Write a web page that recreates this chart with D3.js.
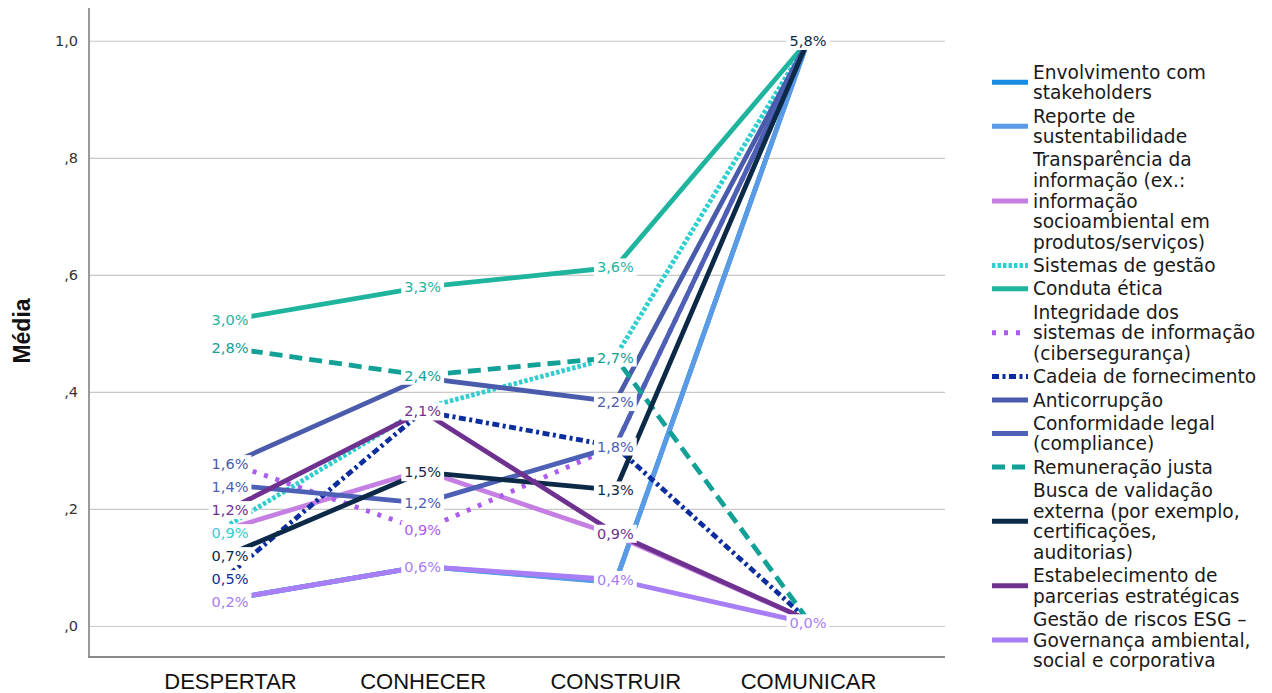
<!DOCTYPE html>
<html>
<head>
<meta charset="utf-8">
<script src="https://cdn.jsdelivr.net/npm/d3@7"></script>
<style>
  body { margin: 0; background: #fff; }
  svg { display: block; }
</style>
</head>
<body>
<svg id="chart" width="1272" height="693"></svg>
<script>
// Stages on the horizontal axis
const categories = ["DESPERTAR", "CONHECER", "CONSTRUIR", "COMUNICAR"];

// Y axis ticks
const yTicks = [0, 0.2, 0.4, 0.6, 0.8, 1.0];
const yTickLabels = [",0", ",2", ",4", ",6", ",8", "1,0"];

// Legend names (line breaks as shown in the legend)
const seriesNames = [
  "Envolvimento com\nstakeholders",
  "Reporte de\nsustentabilidade",
  "Transparência da\ninformação (ex.:\ninformação\nsocioambiental em\nprodutos/serviços)",
  "Sistemas de gestão",
  "Conduta ética",
  "Integridade dos\nsistemas de informação\n(cibersegurança)",
  "Cadeia de fornecimento",
  "Anticorrupção",
  "Conformidade legal\n(compliance)",
  "Remuneração justa",
  "Busca de validação\nexterna (por exemplo,\ncertificações,\nauditorias)",
  "Estabelecimento de\nparcerias estratégicas",
  "Gestão de riscos ESG –\nGovernança ambiental,\nsocial e corporativa"
];

// Mean per stage, one array per theme
const envolvimento    = [0.046, 0.102, 0.075, 1.0];
const reporte         = [0.046, 0.102, 0.074, 1.0];
const transparencia   = [0.167, 0.266, 0.155, 0.01];
const sistemas        = [0.174, 0.372, 0.460, 1.0];
const conduta         = [0.523, 0.579, 0.613, 1.0];
const integridade     = [0.278, 0.164, 0.307, 1.0];
const cadeia          = [0.089, 0.367, 0.307, 0.01];
const anticorrupcao   = [0.277, 0.424, 0.383, 1.0];
const conformidade    = [0.241, 0.210, 0.307, 1.0];
const remuneracao     = [0.475, 0.428, 0.459, 0.01];
const busca           = [0.123, 0.263, 0.232, 1.0];
const estabelecimento = [0.200, 0.367, 0.158, 0.01];
const gestaoRiscos    = [0.046, 0.102, 0.079, 0.005];

// Percentage labels printed next to points (null = no label)
const envolvimentoLbl    = [null, null, null, null];
const reporteLbl         = [null, null, null, null];
const transparenciaLbl   = [null, null, null, null];
const sistemasLbl        = ["0,9%", null, null, null];
const condutaLbl         = ["3,0%", "3,3%", "3,6%", null];
const integridadeLbl     = [null, "0,9%", null, null];
const cadeiaLbl          = ["0,5%", null, null, null];
const anticorrupcaoLbl   = ["1,6%", null, "2,2%", null];
const conformidadeLbl    = ["1,4%", "1,2%", "1,8%", null];
const remuneracaoLbl     = ["2,8%", "2,4%", "2,7%", null];
const buscaLbl           = ["0,7%", "1,5%", "1,3%", "5,8%"];
const estabelecimentoLbl = ["1,2%", "2,1%", "0,9%", null];
const gestaoRiscosLbl    = ["0,2%", "0,6%", "0,4%", "0,0%"];

const seriesValues = [envolvimento, reporte, transparencia, sistemas, conduta, integridade,
  cadeia, anticorrupcao, conformidade, remuneracao, busca, estabelecimento, gestaoRiscos];
const seriesLabels = [envolvimentoLbl, reporteLbl, transparenciaLbl, sistemasLbl, condutaLbl,
  integridadeLbl, cadeiaLbl, anticorrupcaoLbl, conformidadeLbl, remuneracaoLbl, buscaLbl,
  estabelecimentoLbl, gestaoRiscosLbl];

// Styling
const seriesColors = ["#1a8be2", "#5b9be6", "#c57fe3", "#2fcfd0", "#1fb49e", "#ad5cf0",
  "#0b2d9e", "#4a5bab", "#4d60b6", "#13a096", "#0c2a48", "#6f3190", "#a77ef5"];
const seriesDash = [null, null, null, "3.5,2", null, "4,8", "7,3.5,3,3.5", null, null,
  "13,7", null, null, null];

const svg = d3.select("#chart");
const plotLeft = 89, plotRight = 945, plotTop = 8, plotBottom = 657;

const x = d3.scalePoint().domain(categories).range([230, 808]);
const y = d3.scaleLinear().domain([-0.053, 1.056]).range([plotBottom, plotTop]);

// Y axis with gridlines
const yAxis = svg.append("g")
  .attr("transform", `translate(${plotLeft},0)`)
  .call(d3.axisLeft(y).tickValues(yTicks)
    .tickSize(-(plotRight - plotLeft))
    .tickPadding(11)
    .tickFormat((d, i) => yTickLabels[i]));
yAxis.select(".domain").remove();
yAxis.selectAll(".tick line").attr("stroke", "#c8c8c8").attr("stroke-width", 1.2);
yAxis.selectAll(".tick text")
  .attr("font-family", "DejaVu Sans, sans-serif")
  .attr("font-size", 14.5)
  .attr("fill", "#333");

// X axis labels
const xAxis = svg.append("g")
  .attr("transform", `translate(0,${plotBottom})`)
  .call(d3.axisBottom(x).tickSize(0).tickPadding(16));
xAxis.select(".domain").remove();
xAxis.selectAll(".tick text")
  .attr("font-family", "Liberation Sans, Arial, sans-serif")
  .attr("font-size", 22)
  .attr("fill", "#111");

// Axis frame lines
svg.append("line").attr("x1", plotLeft).attr("x2", plotLeft)
  .attr("y1", plotTop).attr("y2", plotBottom)
  .attr("stroke", "#9a9a9a").attr("stroke-width", 2);
svg.append("line").attr("x1", plotLeft - 1).attr("x2", plotRight)
  .attr("y1", plotBottom).attr("y2", plotBottom)
  .attr("stroke", "#8a8a8a").attr("stroke-width", 2);

// Y title
svg.append("text")
  .attr("transform", "translate(22,331) rotate(-90)")
  .attr("text-anchor", "middle")
  .attr("dy", "0.35em")
  .attr("font-family", "Liberation Sans, Arial, sans-serif")
  .attr("font-weight", "bold")
  .attr("font-size", 23)
  .attr("fill", "#111")
  .text("Média");

// Series lines
const line = d3.line()
  .x((d, i) => x(categories[i]))
  .y(d => y(d));

const linesG = svg.append("g");
seriesValues.forEach((vals, s) => {
  linesG.append("path")
    .datum(vals)
    .attr("d", line)
    .attr("fill", "none")
    .attr("stroke", seriesColors[s])
    .attr("stroke-width", 4.8)
    .attr("stroke-linecap", "butt")
    .attr("stroke-linejoin", "round")
    .attr("stroke-dasharray", seriesDash[s]);
});

// Point labels, pushed down to avoid overlap within a stage
const labelsG = svg.append("g");
categories.forEach((cat, j) => {
  const items = [];
  seriesValues.forEach((vals, s) => {
    const t = seriesLabels[s][j];
    if (t != null) items.push({ s, t, target: y(vals[j]) });
  });
  items.sort((a, b) => a.target - b.target);
  let prev = -Infinity;
  items.forEach(it => {
    it.pos = Math.max(it.target, prev + 23);
    prev = it.pos;
  });
  items.forEach(it => {
    const g = labelsG.append("g").attr("transform", `translate(${x(cat)},${it.pos})`);
    const rect = g.append("rect").attr("fill", "#fff");
    const txt = g.append("text")
      .attr("text-anchor", "middle")
      .attr("dy", "0.36em")
      .attr("font-family", "DejaVu Sans, sans-serif")
      .attr("font-size", 14.5)
      .attr("fill", seriesColors[it.s])
      .text(it.t);
    const bb = txt.node().getBBox();
    rect.attr("x", bb.x - 3).attr("y", bb.y - 1)
      .attr("width", bb.width + 6).attr("height", bb.height + 2);
  });
});

// Legend
const legend = svg.append("g");
const lineH = 20.6, entryGap = 2.7;
let cy = 72;
seriesNames.forEach((name, s) => {
  const rows = name.split("\n");
  const first = cy;
  const last = cy + (rows.length - 1) * lineH;
  const mid = (first + last) / 2;
  legend.append("line")
    .attr("x1", 992).attr("x2", 1028)
    .attr("y1", mid).attr("y2", mid)
    .attr("stroke", seriesColors[s])
    .attr("stroke-width", 5)
    .attr("stroke-dasharray", seriesDash[s]);
  rows.forEach((r, k) => {
    legend.append("text")
      .attr("x", 1033)
      .attr("y", first + k * lineH)
      .attr("dy", "0.36em")
      .attr("font-family", "DejaVu Sans, sans-serif")
      .attr("font-size", 18.6)
      .attr("fill", "#1a1a1a")
      .text(r);
  });
  cy = last + lineH + entryGap;
});
</script>
</body>
</html>
